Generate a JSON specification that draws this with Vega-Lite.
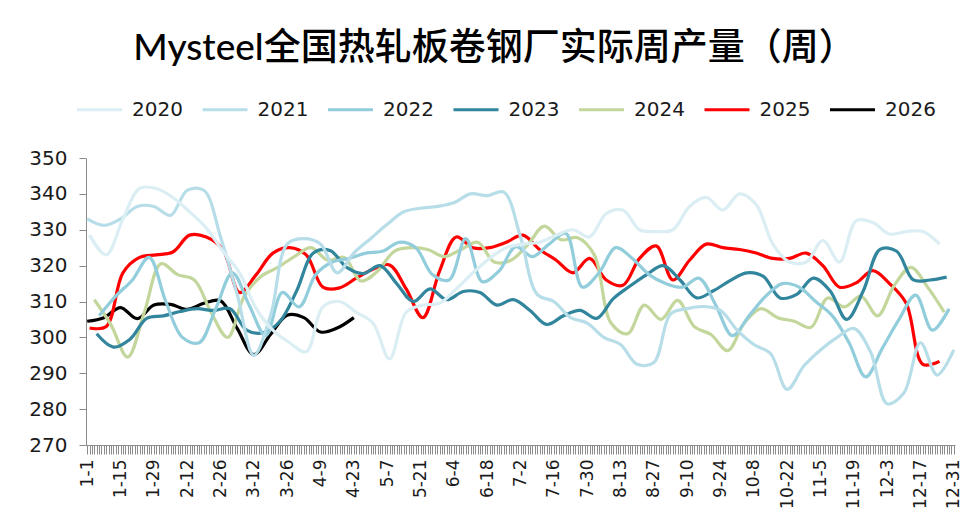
{
"$schema": "https://vega.github.io/schema/vega-lite/v6.json",
"width": 869, "height": 287,
"autosize": "none",
"padding": {"left": 86, "top": 158, "right": 23, "bottom": 86},
"background": "white",
"title": {"text": "Mysteel全国热轧板卷钢厂实际周产量（周）", "fontSize": 37, "font": "Lato, Noto Sans CJK SC", "fontWeight": 500, "color": "#000000", "anchor": "middle", "dx": -26, "offset": 17},
"config": {"view": {"stroke": null}},
"data": {"format": {"parse": {"date": "date:'%m-%d'"}}, "values": [
{"year":"2026","date":"01-01","v":304.5},{"year":"2026","date":"01-08","v":305.5},{"year":"2026","date":"01-15","v":308.3},{"year":"2026","date":"01-22","v":305.2},{"year":"2026","date":"01-29","v":309},{"year":"2026","date":"02-05","v":309.2},{"year":"2026","date":"02-12","v":307.8},{"year":"2026","date":"02-19","v":309.5},{"year":"2026","date":"02-26","v":310.2},{"year":"2026","date":"03-05","v":302.5},{"year":"2026","date":"03-12","v":295.2},{"year":"2026","date":"03-19","v":300.8},{"year":"2026","date":"03-26","v":306.2},{"year":"2026","date":"04-02","v":305.5},{"year":"2026","date":"04-09","v":301.5},{"year":"2026","date":"04-16","v":302.6},{"year":"2026","date":"04-23","v":305.5},
{"year":"2025","date":"01-02","v":302.6},{"year":"2025","date":"01-09","v":303},{"year":"2025","date":"01-16","v":318},{"year":"2025","date":"01-23","v":322.3},{"year":"2025","date":"01-30","v":323},{"year":"2025","date":"02-06","v":323.8},{"year":"2025","date":"02-13","v":328.5},{"year":"2025","date":"02-20","v":328},{"year":"2025","date":"02-27","v":324.5},{"year":"2025","date":"03-06","v":312.5},{"year":"2025","date":"03-13","v":317.5},{"year":"2025","date":"03-20","v":323.5},{"year":"2025","date":"03-27","v":325},{"year":"2025","date":"04-03","v":323},{"year":"2025","date":"04-10","v":314},{"year":"2025","date":"04-17","v":313.8},{"year":"2025","date":"04-24","v":316.5},{"year":"2025","date":"05-01","v":319},{"year":"2025","date":"05-08","v":320.2},{"year":"2025","date":"05-15","v":313.5},{"year":"2025","date":"05-22","v":305.5},{"year":"2025","date":"05-29","v":318.5},{"year":"2025","date":"06-05","v":328},{"year":"2025","date":"06-12","v":325},{"year":"2025","date":"06-19","v":325},{"year":"2025","date":"06-26","v":326.5},{"year":"2025","date":"07-03","v":328.5},{"year":"2025","date":"07-10","v":324.5},{"year":"2025","date":"07-17","v":321.5},{"year":"2025","date":"07-24","v":318},{"year":"2025","date":"07-31","v":322},{"year":"2025","date":"08-07","v":316},{"year":"2025","date":"08-14","v":314.5},{"year":"2025","date":"08-21","v":322},{"year":"2025","date":"08-28","v":325.5},{"year":"2025","date":"09-04","v":316},{"year":"2025","date":"09-11","v":321.5},{"year":"2025","date":"09-18","v":326},{"year":"2025","date":"09-25","v":325},{"year":"2025","date":"10-02","v":324.5},{"year":"2025","date":"10-09","v":323.5},{"year":"2025","date":"10-16","v":322},{"year":"2025","date":"10-23","v":322},{"year":"2025","date":"10-30","v":323.5},{"year":"2025","date":"11-06","v":320},{"year":"2025","date":"11-13","v":314},{"year":"2025","date":"11-20","v":315.2},{"year":"2025","date":"11-27","v":318.6},{"year":"2025","date":"12-04","v":315},{"year":"2025","date":"12-11","v":309.5},{"year":"2025","date":"12-18","v":292.5},{"year":"2025","date":"12-25","v":293.3},
{"year":"2024","date":"01-04","v":310.5},{"year":"2024","date":"01-11","v":303.5},{"year":"2024","date":"01-18","v":294.5},{"year":"2024","date":"01-25","v":307},{"year":"2024","date":"02-01","v":320.5},{"year":"2024","date":"02-08","v":317.5},{"year":"2024","date":"02-15","v":316},{"year":"2024","date":"02-22","v":307},{"year":"2024","date":"03-01","v":300},{"year":"2024","date":"03-08","v":311.5},{"year":"2024","date":"03-15","v":317},{"year":"2024","date":"03-22","v":319.5},{"year":"2024","date":"03-29","v":322.5},{"year":"2024","date":"04-05","v":325},{"year":"2024","date":"04-12","v":321.5},{"year":"2024","date":"04-19","v":322.3},{"year":"2024","date":"04-26","v":315.7},{"year":"2024","date":"05-03","v":318.5},{"year":"2024","date":"05-10","v":324},{"year":"2024","date":"05-17","v":325},{"year":"2024","date":"05-24","v":324.5},{"year":"2024","date":"05-31","v":322.5},{"year":"2024","date":"06-07","v":324.5},{"year":"2024","date":"06-14","v":326.5},{"year":"2024","date":"06-21","v":321},{"year":"2024","date":"06-28","v":321.5},{"year":"2024","date":"07-05","v":325.8},{"year":"2024","date":"07-12","v":331},{"year":"2024","date":"07-19","v":327.2},{"year":"2024","date":"07-26","v":327.8},{"year":"2024","date":"08-02","v":323},{"year":"2024","date":"08-09","v":304},{"year":"2024","date":"08-16","v":301},{"year":"2024","date":"08-23","v":309},{"year":"2024","date":"08-30","v":305},{"year":"2024","date":"09-06","v":310.3},{"year":"2024","date":"09-13","v":303},{"year":"2024","date":"09-20","v":300.8},{"year":"2024","date":"09-27","v":296.3},{"year":"2024","date":"10-04","v":304},{"year":"2024","date":"10-11","v":308},{"year":"2024","date":"10-18","v":305.5},{"year":"2024","date":"10-25","v":304.5},{"year":"2024","date":"11-01","v":302.8},{"year":"2024","date":"11-08","v":311},{"year":"2024","date":"11-15","v":308.5},{"year":"2024","date":"11-22","v":311.5},{"year":"2024","date":"11-29","v":306},{"year":"2024","date":"12-06","v":314.5},{"year":"2024","date":"12-13","v":319.5},{"year":"2024","date":"12-20","v":314},{"year":"2024","date":"12-27","v":307},
{"year":"2023","date":"01-05","v":301},{"year":"2023","date":"01-12","v":297.3},{"year":"2023","date":"01-19","v":299.5},{"year":"2023","date":"01-26","v":305.3},{"year":"2023","date":"02-02","v":306},{"year":"2023","date":"02-09","v":307.2},{"year":"2023","date":"02-16","v":308},{"year":"2023","date":"02-23","v":307.5},{"year":"2023","date":"03-02","v":308},{"year":"2023","date":"03-09","v":302},{"year":"2023","date":"03-16","v":301.3},{"year":"2023","date":"03-23","v":304.5},{"year":"2023","date":"03-30","v":313},{"year":"2023","date":"04-06","v":323.5},{"year":"2023","date":"04-13","v":324.2},{"year":"2023","date":"04-20","v":319.5},{"year":"2023","date":"04-27","v":317.8},{"year":"2023","date":"05-04","v":320},{"year":"2023","date":"05-11","v":315},{"year":"2023","date":"05-18","v":310},{"year":"2023","date":"05-25","v":313.5},{"year":"2023","date":"06-01","v":310.5},{"year":"2023","date":"06-08","v":312.8},{"year":"2023","date":"06-15","v":312.5},{"year":"2023","date":"06-22","v":309},{"year":"2023","date":"06-29","v":310.5},{"year":"2023","date":"07-06","v":307.5},{"year":"2023","date":"07-13","v":303.6},{"year":"2023","date":"07-20","v":306},{"year":"2023","date":"07-27","v":307.5},{"year":"2023","date":"08-03","v":305.3},{"year":"2023","date":"08-10","v":310.8},{"year":"2023","date":"08-17","v":314.3},{"year":"2023","date":"08-24","v":317.5},{"year":"2023","date":"08-31","v":320},{"year":"2023","date":"09-07","v":316},{"year":"2023","date":"09-14","v":311},{"year":"2023","date":"09-21","v":313},{"year":"2023","date":"09-28","v":315.8},{"year":"2023","date":"10-05","v":318},{"year":"2023","date":"10-12","v":317},{"year":"2023","date":"10-19","v":311},{"year":"2023","date":"10-26","v":312},{"year":"2023","date":"11-02","v":316.5},{"year":"2023","date":"11-09","v":313},{"year":"2023","date":"11-16","v":305},{"year":"2023","date":"11-23","v":313},{"year":"2023","date":"11-30","v":324.5},{"year":"2023","date":"12-07","v":324},{"year":"2023","date":"12-14","v":316},{"year":"2023","date":"12-21","v":316},{"year":"2023","date":"12-28","v":316.8},
{"year":"2022","date":"01-06","v":306},{"year":"2022","date":"01-13","v":311.5},{"year":"2022","date":"01-20","v":316},{"year":"2022","date":"01-27","v":322.3},{"year":"2022","date":"02-03","v":310},{"year":"2022","date":"02-10","v":300},{"year":"2022","date":"02-17","v":298.5},{"year":"2022","date":"02-24","v":308},{"year":"2022","date":"03-03","v":318},{"year":"2022","date":"03-10","v":309},{"year":"2022","date":"03-17","v":300.5},{"year":"2022","date":"03-24","v":312.5},{"year":"2022","date":"03-31","v":308.5},{"year":"2022","date":"04-07","v":317.5},{"year":"2022","date":"04-14","v":321},{"year":"2022","date":"04-21","v":322},{"year":"2022","date":"04-28","v":323.5},{"year":"2022","date":"05-05","v":324},{"year":"2022","date":"05-12","v":326.5},{"year":"2022","date":"05-19","v":325},{"year":"2022","date":"05-26","v":317.5},{"year":"2022","date":"06-02","v":316},{"year":"2022","date":"06-09","v":327.5},{"year":"2022","date":"06-16","v":315.5},{"year":"2022","date":"06-23","v":318.5},{"year":"2022","date":"06-30","v":325.3},{"year":"2022","date":"07-07","v":322.5},{"year":"2022","date":"07-14","v":326},{"year":"2022","date":"07-21","v":329},{"year":"2022","date":"07-28","v":314},{"year":"2022","date":"08-04","v":318},{"year":"2022","date":"08-11","v":325},{"year":"2022","date":"08-18","v":322},{"year":"2022","date":"08-25","v":317.5},{"year":"2022","date":"09-01","v":315},{"year":"2022","date":"09-08","v":314},{"year":"2022","date":"09-15","v":316.5},{"year":"2022","date":"09-22","v":309},{"year":"2022","date":"09-29","v":300.5},{"year":"2022","date":"10-06","v":306},{"year":"2022","date":"10-13","v":311.5},{"year":"2022","date":"10-20","v":315},{"year":"2022","date":"10-27","v":314},{"year":"2022","date":"11-03","v":310},{"year":"2022","date":"11-10","v":306},{"year":"2022","date":"11-17","v":298.5},{"year":"2022","date":"11-24","v":289},{"year":"2022","date":"12-01","v":297},{"year":"2022","date":"12-08","v":305},{"year":"2022","date":"12-15","v":311.8},{"year":"2022","date":"12-22","v":302},{"year":"2022","date":"12-29","v":308},
{"year":"2021","date":"01-01","v":333},{"year":"2021","date":"01-08","v":331.2},{"year":"2021","date":"01-15","v":333},{"year":"2021","date":"01-22","v":336.5},{"year":"2021","date":"01-29","v":336.5},{"year":"2021","date":"02-05","v":334},{"year":"2021","date":"02-12","v":341},{"year":"2021","date":"02-19","v":341},{"year":"2021","date":"02-26","v":328},{"year":"2021","date":"03-05","v":312},{"year":"2021","date":"03-12","v":295},{"year":"2021","date":"03-19","v":306},{"year":"2021","date":"03-26","v":326},{"year":"2021","date":"04-02","v":327.5},{"year":"2021","date":"04-09","v":326},{"year":"2021","date":"04-16","v":318},{"year":"2021","date":"04-23","v":323.5},{"year":"2021","date":"04-30","v":327.5},{"year":"2021","date":"05-07","v":331.5},{"year":"2021","date":"05-14","v":335},{"year":"2021","date":"05-21","v":336},{"year":"2021","date":"05-28","v":336.5},{"year":"2021","date":"06-04","v":337.5},{"year":"2021","date":"06-11","v":340},{"year":"2021","date":"06-18","v":339.5},{"year":"2021","date":"06-25","v":340.5},{"year":"2021","date":"07-02","v":328},{"year":"2021","date":"07-09","v":312},{"year":"2021","date":"07-16","v":310},{"year":"2021","date":"07-23","v":305.5},{"year":"2021","date":"07-30","v":304},{"year":"2021","date":"08-06","v":300},{"year":"2021","date":"08-13","v":298},{"year":"2021","date":"08-20","v":292.5},{"year":"2021","date":"08-27","v":293},{"year":"2021","date":"09-03","v":306.5},{"year":"2021","date":"09-10","v":308},{"year":"2021","date":"09-17","v":308.6},{"year":"2021","date":"09-24","v":307.5},{"year":"2021","date":"10-01","v":302},{"year":"2021","date":"10-08","v":298},{"year":"2021","date":"10-15","v":295.5},{"year":"2021","date":"10-22","v":285.5},{"year":"2021","date":"10-29","v":292},{"year":"2021","date":"11-05","v":296.5},{"year":"2021","date":"11-12","v":300},{"year":"2021","date":"11-19","v":302.5},{"year":"2021","date":"11-26","v":296},{"year":"2021","date":"12-03","v":281.5},{"year":"2021","date":"12-10","v":284.5},{"year":"2021","date":"12-17","v":298.5},{"year":"2021","date":"12-24","v":289.5},{"year":"2021","date":"12-31","v":296.5},
{"year":"2020","date":"01-02","v":328.5},{"year":"2020","date":"01-09","v":323},{"year":"2020","date":"01-16","v":333},{"year":"2020","date":"01-23","v":341.5},{"year":"2020","date":"01-30","v":341.5},{"year":"2020","date":"02-06","v":339},{"year":"2020","date":"02-13","v":335},{"year":"2020","date":"02-20","v":330.5},{"year":"2020","date":"02-27","v":324},{"year":"2020","date":"03-06","v":318},{"year":"2020","date":"03-13","v":308},{"year":"2020","date":"03-20","v":302},{"year":"2020","date":"03-27","v":298.5},{"year":"2020","date":"04-03","v":296},{"year":"2020","date":"04-10","v":308.5},{"year":"2020","date":"04-17","v":310},{"year":"2020","date":"04-24","v":307},{"year":"2020","date":"05-01","v":304},{"year":"2020","date":"05-08","v":294},{"year":"2020","date":"05-15","v":307},{"year":"2020","date":"05-22","v":309},{"year":"2020","date":"05-29","v":309.5},{"year":"2020","date":"06-05","v":313.5},{"year":"2020","date":"06-12","v":318},{"year":"2020","date":"06-19","v":322},{"year":"2020","date":"06-26","v":325},{"year":"2020","date":"07-03","v":326},{"year":"2020","date":"07-10","v":326.5},{"year":"2020","date":"07-17","v":328.5},{"year":"2020","date":"07-24","v":330},{"year":"2020","date":"07-31","v":328},{"year":"2020","date":"08-07","v":334.5},{"year":"2020","date":"08-14","v":335.5},{"year":"2020","date":"08-21","v":330},{"year":"2020","date":"08-28","v":329.5},{"year":"2020","date":"09-04","v":330},{"year":"2020","date":"09-11","v":336.5},{"year":"2020","date":"09-18","v":339},{"year":"2020","date":"09-25","v":335.5},{"year":"2020","date":"10-02","v":340},{"year":"2020","date":"10-09","v":337},{"year":"2020","date":"10-16","v":326},{"year":"2020","date":"10-23","v":321},{"year":"2020","date":"10-30","v":321},{"year":"2020","date":"11-06","v":327},{"year":"2020","date":"11-13","v":321},{"year":"2020","date":"11-20","v":332.5},{"year":"2020","date":"11-27","v":332},{"year":"2020","date":"12-04","v":328.8},{"year":"2020","date":"12-11","v":329.5},{"year":"2020","date":"12-18","v":329.5},{"year":"2020","date":"12-25","v":326}
]},
"mark": {"type": "line", "interpolate": "catmull-rom"},
"encoding": {
"x": {"field": "date", "type": "temporal",
 "scale": {"domain": [{"year": 1899, "month": 12, "date": 31, "hours": 12}, {"year": 1900, "month": 12, "date": 31, "hours": 12}], "nice": false},
 "axis": {"title": null, "grid": false, "tickCount": {"interval": "day", "step": 1}, "labelExpr": "(dayofyear(datum.value) - 1) % 14 == 0 ? timeFormat(datum.value, '%-m-%-d') : ''", "labelAngle": -90, "labelOverlap": false, "labelBound": false, "labelFlush": false, "labelFont": "DejaVu Sans", "labelFontSize": 17, "labelColor": "#1a1a1a", "labelPadding": 5, "tickSize": 9, "tickColor": "#8c8c8c", "domainColor": "#8c8c8c", "domainWidth": 1}},
"y": {"field": "v", "type": "quantitative",
 "scale": {"domain": [270, 350], "nice": false, "zero": false},
 "axis": {"title": null, "grid": false, "values": [270, 280, 290, 300, 310, 320, 330, 340, 350], "labelFont": "DejaVu Sans", "labelFontSize": 20, "labelColor": "#1a1a1a", "labelPadding": 12, "tickSize": 7, "tickColor": "#8c8c8c", "domainColor": "#8c8c8c"}},
"color": {"field": "year", "type": "nominal",
 "scale": {"domain": ["2020", "2021", "2022", "2023", "2024", "2025", "2026"], "range": ["#DAEEF3", "#B7DEE8", "#92CDDC", "#31859C", "#C3D69B", "#FF0000", "#000000"]},
 "legend": {"title": null, "orient": "none", "legendX": -11, "legendY": -73, "direction": "horizontal", "symbolType": "stroke", "symbolSize": 2025, "symbolStrokeWidth": 4, "labelFont": "DejaVu Sans", "labelFontSize": 20, "labelColor": "#1a1a1a", "labelOffset": 8, "columnPadding": 12.5}},
"strokeWidth": {"field": "year", "type": "nominal", "scale": {"domain": ["2020", "2021", "2022", "2023", "2024", "2025", "2026"], "range": [3.2, 3.2, 3.2, 3.2, 3.2, 3.5, 4.5]}, "legend": null},
"order": {"field": "date", "type": "temporal"}
}
}
